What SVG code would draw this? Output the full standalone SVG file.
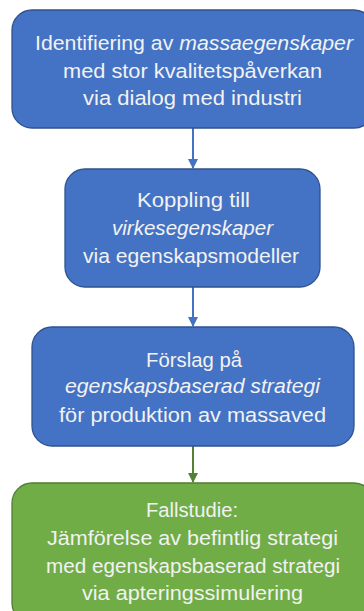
<svg xmlns="http://www.w3.org/2000/svg" width="364" height="611" viewBox="0 0 364 611">
<style>
.blue{fill:#4472C4;stroke:#2F528F;stroke-width:1.3}
.green{fill:#70AD47;stroke:#507E32;stroke-width:1.3}
text{font-family:"Liberation Sans",Arial,sans-serif;font-size:20.5px;fill:#F2F2F2;text-anchor:middle}
.it{font-style:italic}
.cb{stroke:#4472C4;stroke-width:2;fill:none}
.cg{stroke:#548235;stroke-width:2;fill:none}
</style>
<defs>
<marker id="ab" markerWidth="10" markerHeight="10" refX="9" refY="5" orient="auto" markerUnits="userSpaceOnUse"><path d="M0,0 L10,5 L0,10 Z" fill="#4472C4"/></marker>
<marker id="ag" markerWidth="10" markerHeight="10" refX="9" refY="5" orient="auto" markerUnits="userSpaceOnUse"><path d="M0,0 L10,5 L0,10 Z" fill="#548235"/></marker>
</defs>
<g id="connectors">
<line class="cb" x1="193" y1="128" x2="193" y2="168" marker-end="url(#ab)"/>
<line class="cb" x1="193" y1="287" x2="193" y2="326" marker-end="url(#ab)"/>
<line class="cg" x1="193" y1="446" x2="193" y2="482" marker-end="url(#ag)"/>
</g>
<g id="n1">
<rect class="blue" x="12" y="10" width="362" height="118" rx="20"/>
<text x="194" y="50" textLength="318" lengthAdjust="spacingAndGlyphs">Identifiering av <tspan class="it">massaegenskaper</tspan></text>
<text x="192.5" y="78" textLength="259" lengthAdjust="spacingAndGlyphs">med stor kvalitetspåverkan</text>
<text x="192.5" y="105" textLength="219" lengthAdjust="spacingAndGlyphs">via dialog med industri</text>
</g>
<g id="n2">
<rect class="blue" x="65" y="169" width="255" height="118" rx="20"/>
<text x="193.5" y="207" textLength="113" lengthAdjust="spacingAndGlyphs">Koppling till</text>
<text x="192.5" y="235" class="it" textLength="161" lengthAdjust="spacingAndGlyphs">virkesegenskaper</text>
<text x="191" y="263" textLength="216" lengthAdjust="spacingAndGlyphs">via egenskapsmodeller</text>
</g>
<g id="n3">
<rect class="blue" x="32" y="327" width="322" height="119" rx="20"/>
<text x="194" y="367" textLength="96" lengthAdjust="spacingAndGlyphs">Förslag på</text>
<text x="192.5" y="393" class="it" textLength="255" lengthAdjust="spacingAndGlyphs">egenskapsbaserad strategi</text>
<text x="192.5" y="422" textLength="267" lengthAdjust="spacingAndGlyphs">för produktion av massaved</text>
</g>
<g id="n4">
<rect class="green" x="12" y="483" width="362" height="140" rx="20"/>
<text x="192" y="517" textLength="92" lengthAdjust="spacingAndGlyphs">Fallstudie:</text>
<text x="192.5" y="545" textLength="291" lengthAdjust="spacingAndGlyphs">Jämförelse av befintlig strategi</text>
<text x="193" y="573" textLength="294" lengthAdjust="spacingAndGlyphs">med egenskapsbaserad strategi</text>
<text x="192.5" y="600" textLength="221" lengthAdjust="spacingAndGlyphs">via apteringssimulering</text>
</g>
</svg>
